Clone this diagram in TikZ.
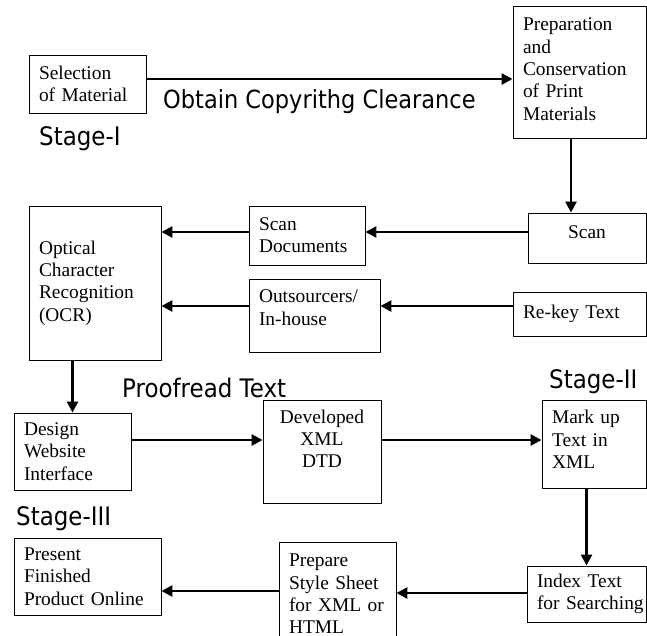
\documentclass[tikz,border=0pt]{standalone}
\usepackage{fontspec}
\setmainfont{Liberation Serif}
\newfontfamily\stagefont[FakeStretch=0.9]{DejaVu Sans}
\usetikzlibrary{arrows.meta}

\tikzset{
  box/.style={draw,line width=0.9pt,inner xsep=10pt,inner ysep=2pt,align=left,
    font=\fontsize{19.4pt}{22.3pt}\selectfont},
  flow/.style={line width=2.6pt,-{Triangle[length=11pt,width=11pt]}},
  stage/.style={inner sep=0pt,anchor=base west,font=\stagefont\fontsize{25.5pt}{30pt}\selectfont},
}

\begin{document}
\begin{tikzpicture}[x=1pt,y=-1pt]
    \clip (0,0) rectangle (647,635);
    % stage I
    \node[box,text width=97pt,minimum height=58pt] (sel) at (87.5,84) {Selection\\of Material};
    \node[box,text width=113pt,minimum height=132pt,text depth=95pt] (prep) at (579.5,72) {Preparation\\and\\Conservation\\of Print\\Materials};
    \node[stage,font=\stagefont\fontsize{25pt}{30pt}\selectfont] (copy) at (163,108) {Obtain Copyrithg Clearance};
    \node[stage] (st1) at (39,145) {Stage-I};
    % stage II
    \node[box,text width=98pt,minimum height=50pt,align=center,text depth=12pt] (scan) at (587,238) {Scan};
    \node[box,text width=96pt,minimum height=59pt] (scandoc) at (307,235.5) {Scan\\Documents};
    \node[box,text width=113pt,minimum height=44pt] (rekey) at (579.5,314) {Re-key Text};
    \node[box,text width=111pt,minimum height=73pt,text depth=38pt] (outs) at (314.5,315.5) {Outsourcers/\\In-house};
    \node[box,text width=112pt,minimum height=154pt] (ocr) at (95,283) {Optical\\Character\\Recognition\\(OCR)};
    \node[stage] (proof) at (122,397) {Proofread Text};
    \node[stage] (st2) at (549,388) {Stage-II};
    \node[box,text width=97pt,minimum height=77pt] (design) at (72.5,451.5) {Design\\Website\\Interface};
    \node[box,text width=98pt,minimum height=103pt,align=center,text depth=70pt] (dev) at (322,451.5) {Developed\\XML\\DTD};
    \node[box,text width=84pt,minimum height=88pt,text depth=54pt] (markup) at (594,444) {Mark up\\Text in\\XML};
    % stage III
    \node[stage] (st3) at (16,525) {Stage-III};
    \node[box,text width=99pt,minimum height=56pt] (index) at (586.5,594) {Index Text\\\mbox{for Searching}};
    \node[box,text width=97pt,minimum height=104pt] (style) at (337.5,594) {Prepare\\Style Sheet\\for XML or\\HTML};
    \node[box,text width=127pt,minimum height=77pt] (present) at (87.5,576.5) {Present\\Finished\\Product Online};

    \draw[flow] ([yshift=5pt]sel.east) -- ([yshift=5pt]sel.east -| prep.west);
    \draw[flow] ([xshift=-8.5pt]prep.south) -- ([xshift=-8.5pt]prep.south |- scan.north);
    \draw[flow] ([yshift=6pt]scan.west) -- ([yshift=6pt]scan.west -| scandoc.east);
    \draw[flow] ([yshift=3.5pt]scandoc.west) -- ([yshift=3.5pt]scandoc.west -| ocr.east);
    \draw[flow] ([yshift=8pt]rekey.west) -- ([yshift=8pt]rekey.west -| outs.east);
    \draw[flow] ([yshift=9.5pt]outs.west) -- ([yshift=9.5pt]outs.west -| ocr.east);
    \draw[flow] (ocr.south -| design.north) -- (design.north);
    \draw[flow] ([yshift=11.5pt]design.east) -- ([yshift=11.5pt]design.east -| dev.west);
    \draw[flow] ([yshift=11.5pt]dev.east) -- ([yshift=11.5pt]dev.east -| markup.west);
    \draw[flow] (markup.south -| index.north) -- (index.north);
    \draw[flow] ([yshift=1pt]index.west) -- ([yshift=1pt]index.west -| style.east);
    \draw[flow] ([yshift=3pt]style.west) -- ([yshift=3pt]style.west -| present.east);
\end{tikzpicture}
\end{document}
